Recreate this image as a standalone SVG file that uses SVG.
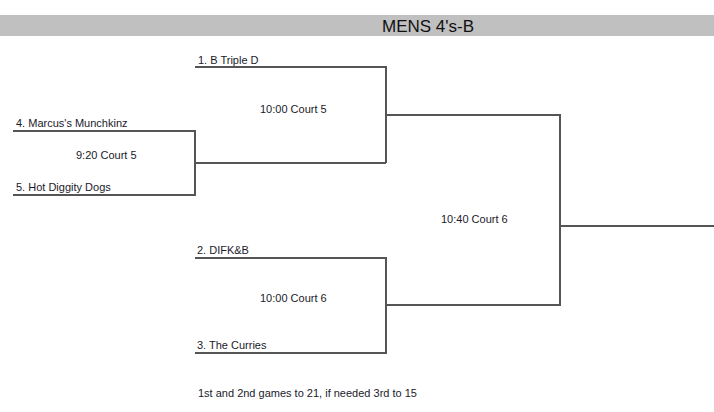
<svg xmlns="http://www.w3.org/2000/svg" width="714" height="412" viewBox="0 0 714 412">
<style>
text{font-family:"Liberation Sans",Arial,sans-serif;font-size:11px;fill:#1a1a2a}
.t{font-size:17px;fill:#111}
.c{fill:none;stroke:#555;stroke-width:2}
</style>
<rect width="714" height="412" fill="#fff"/>
<rect x="0" y="15" width="714" height="21" fill="#c0c0c0"/>
<text class="t" x="382" y="32">MENS 4's-B</text>
<g id="connectors">
<path class="c" d="M13 131H195V195H13M195 163H386M195 67H386V163M386 115H560V305H386M195 258H386V353H195M560 226H714"/>
</g>
<g id="team1"><text x="198" y="64">1. B Triple D</text></g>
<g id="team4"><text x="16" y="127">4. Marcus's Munchkinz</text></g>
<g id="team5"><text x="16" y="191">5. Hot Diggity Dogs</text></g>
<g id="team2"><text x="197" y="254">2. DIFK&amp;B</text></g>
<g id="team3"><text x="197" y="349">3. The Curries</text></g>
<g id="game1"><text x="76" y="159">9:20 Court 5</text></g>
<g id="game2"><text x="260" y="113">10:00 Court 5</text></g>
<g id="game3"><text x="260" y="302">10:00 Court 6</text></g>
<g id="game4"><text x="441" y="223">10:40 Court 6</text></g>
<g id="note"><text x="198" y="397">1st and 2nd games to 21, if needed 3rd to 15</text></g>
</svg>
